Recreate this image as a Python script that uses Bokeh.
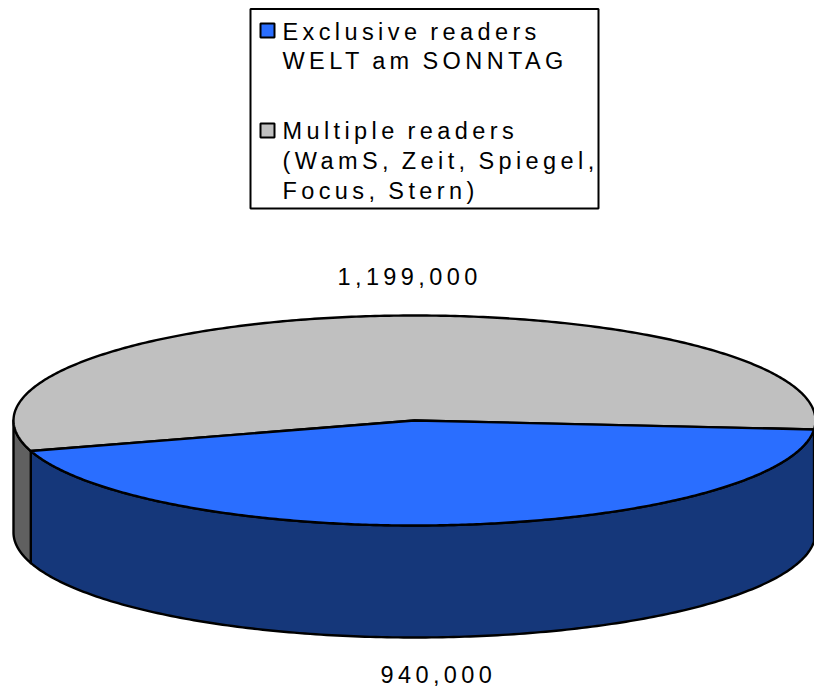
import numpy as np
from bokeh.plotting import figure
from bokeh.models import Range1d
from bokeh.core.properties import value
from bokeh.embed import file_html
from bokeh.resources import INLINE

categories = ["Exclusive readers WELT am SONNTAG", "Multiple readers (WamS, Zeit, Spiegel, Focus, Stern)"]
readers = [940000, 1199000]
value_labels = ["940,000", "1,199,000"]
legend_lines = [["Exclusive readers", "WELT am SONNTAG"],
                ["Multiple readers", "(WamS, Zeit, Spiegel,", "Focus, Stern)"]]

top_colors = ["#2A6EFF", "#C0C0C0"]
side_colors = ["#15377A", "#606060"]

CX, CY, RX, RY, DEPTH = 414, 420, 401, 105, 112
START_DEG = 4.9   # the blue slice starts here and sweeps clockwise on screen
FONT = "Liberation Sans"
FS = "23.5px"
LW = 2.4

p = figure(width=814, height=688, output_backend="svg", toolbar_location=None,
           x_range=Range1d(0, 814), y_range=Range1d(688, 0), min_border=0,
           outline_line_color=None, x_axis_type=None, y_axis_type=None,
           styles={"letter-spacing": "4.4px", "word-spacing": "-2px"})
p.grid.visible = False
p.background_fill_color = "white"
p.border_fill_color = "white"


def ell(t):
    return CX + RX * np.cos(t), CY + RY * np.sin(t)


frac = readers[0] / sum(readers)
a0 = np.radians(START_DEG)
a1 = a0 + 2 * np.pi * frac

# front walls: blue slice, then the part of the grey slice down to the left edge
for start, end, colour in [(a0, a1, side_colors[0]), (a1, np.pi, side_colors[1])]:
    lo, hi = min(start, end), max(start, end)
    x, y = ell(np.linspace(lo, hi, 200))
    p.patch(np.r_[x, x[::-1]], np.r_[y, y[::-1] + DEPTH], fill_color=colour,
            line_color="black", line_width=LW, line_join="round")

# top slices
x, y = ell(np.linspace(a1, a0 + 2 * np.pi, 300))
p.patch(np.r_[CX, x], np.r_[CY, y], fill_color=top_colors[1], line_color="black",
        line_width=LW, line_join="round")
x, y = ell(np.linspace(a0, a1, 300))
p.patch(np.r_[CX, x], np.r_[CY, y], fill_color=top_colors[0], line_color="black",
        line_width=LW, line_join="round")

# value labels
p.text([337], [276], text=[value_labels[1]], text_font=value(FONT), text_font_size=FS,
       text_align="left", text_baseline="alphabetic", text_color="black")
p.text([380], [674], text=[value_labels[0]], text_font=value(FONT), text_font_size=FS,
       text_align="left", text_baseline="alphabetic", text_color="black")

# legend
p.quad(left=[250], right=[598], top=[8.5], bottom=[208], fill_color="white", line_color="black", line_width=2)
p.quad(left=[260, 260], right=[274, 274], top=[23, 123], bottom=[37, 137],
       fill_color=top_colors, line_color="black", line_width=2)
baselines = [[31, 60], [130, 160, 190]]
for lines, ys in zip(legend_lines, baselines):
    p.text([282] * len(lines), ys, text=lines, text_font=value(FONT), text_font_size=FS,
           text_align="left", text_baseline="alphabetic", text_color="black")

open("out.html", "w").write(file_html(p, INLINE))
